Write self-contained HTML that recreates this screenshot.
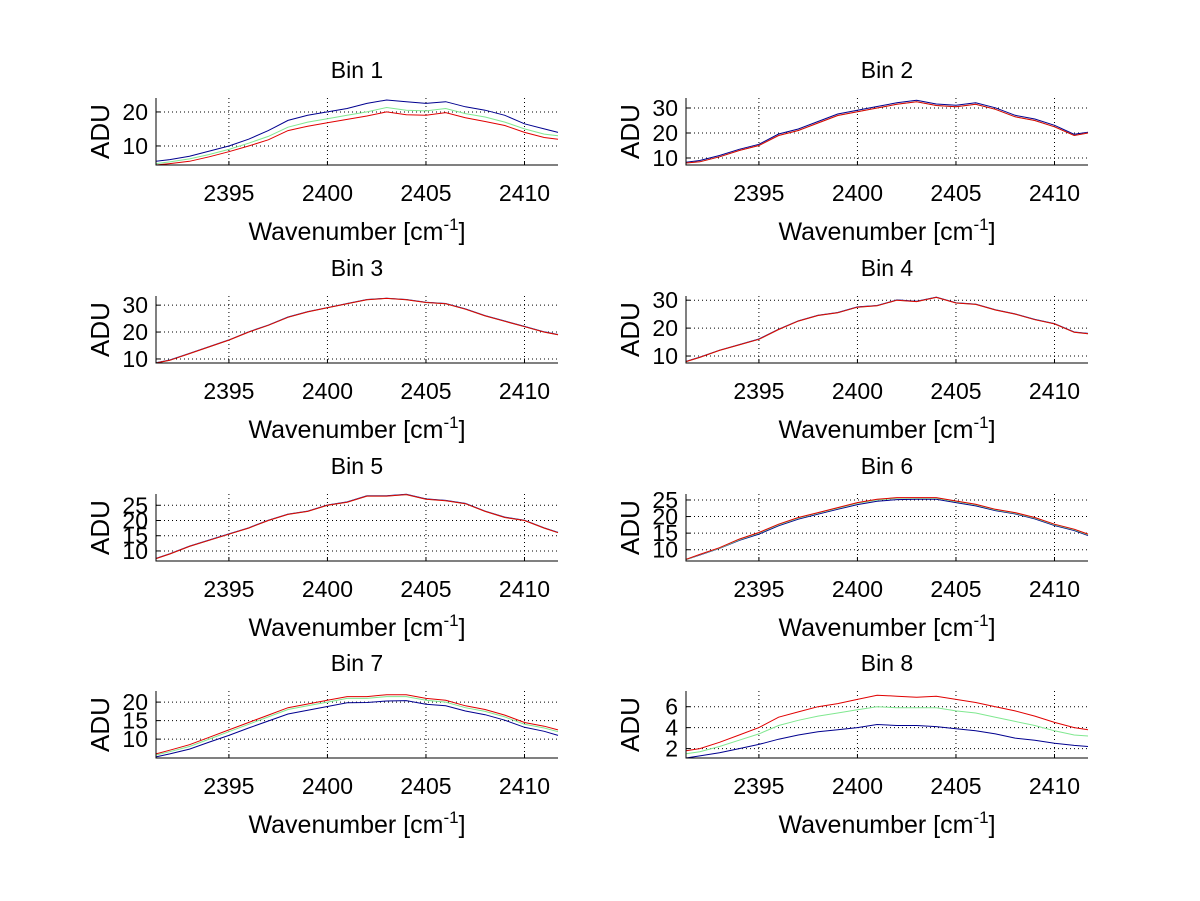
<!DOCTYPE html>
<html><head><meta charset="utf-8"><style>
html,body{margin:0;padding:0;background:#fff;}
svg{display:block;font-family:"Liberation Sans",sans-serif;}
</style></head><body>
<svg id="fig" width="1200" height="901" viewBox="0 0 1200 901" xmlns="http://www.w3.org/2000/svg"></svg>
<script>
const xs = [2391.3,2392,2393,2394,2395,2396,2397,2398,2399,2400,2401,2402,2403,2404,2405,2406,2407,2408,2409,2410,2411,2411.7];
const xTicks = [2395,2400,2405,2410];
const binTitles = ["Bin 1","Bin 2","Bin 3","Bin 4","Bin 5","Bin 6","Bin 7","Bin 8"];
const yLims = [[4.4,24.1],[7.2,34],[8.5,33.4],[7.5,31.5],[6.7,28.7],[6.6,26.8],[4.9,23],[1.1,7.5]];
const yTicks = [[10,20],[10,20,30],[10,20,30],[10,20,30],[10,15,20,25],[10,15,20,25],[10,15,20],[2,4,6]];
const blue = [
[5.5,6,7,8.5,10,12,14.5,17.5,19,20,21,22.5,23.5,23,22.5,23,21.5,20.5,19,16.5,15,14],
[8.3,9,11,13.5,15.5,19.6,21.6,24.6,27.6,29.1,30.6,32.1,33.1,31.6,31.1,32.1,30.1,27.1,25.6,23.1,19.5,20.3],
[8.6,9.6,12.1,14.6,17.1,20.1,22.6,25.6,27.6,29.1,30.6,32.1,32.6,32.1,31.1,30.6,28.6,26.1,24.1,22.1,20.1,19.1],
[8.1,9.6,12.1,14.1,16.1,19.6,22.6,24.6,25.6,27.6,28.1,30.1,29.6,31.1,29.1,28.6,26.6,25.1,23.1,21.6,18.6,18.1],
[7.6,9.1,11.6,13.6,15.6,17.6,20.1,22.1,23.1,25.1,26.1,28.1,28.1,28.6,27.1,26.6,25.6,23.1,21.1,20.1,17.6,16.1],
[7,8.4,10.4,12.8,14.7,17.2,19.2,20.7,22.2,23.6,24.6,25.1,25.2,25.2,24.2,23.2,21.8,20.8,19.3,17.3,15.8,14.3],
[5.2,6,7.3,9.2,11,13,14.9,16.8,17.8,18.8,19.8,19.9,20.3,20.4,19.4,19,17.6,16.6,15.1,13.2,12.1,11],
[1.1,1.3,1.6,2,2.4,2.9,3.3,3.6,3.8,4,4.3,4.2,4.2,4.1,3.9,3.7,3.4,3,2.8,2.5,2.3,2.2]];
const green = [
[4.8,5.3,6.2,7.5,9,10.8,12.8,15.5,17,18,19,20,21.3,20.5,20.3,21,19.5,18.5,17,15,13.5,13],
[8,8.5,10.5,13,15,19,21,24,27,28.5,30,31.5,32.5,31,30.5,31.5,29.5,26.5,25,22.5,19,20],
[8.5,9.5,12,14.5,17,20,22.5,25.5,27.5,29,30.5,32,32.5,32,31,30.5,28.5,26,24,22,20,19],
[8,9.5,12,14,16,19.5,22.5,24.5,25.5,27.5,28,30,29.5,31,29,28.5,26.5,25,23,21.5,18.5,18],
[7.5,9,11.5,13.5,15.5,17.5,20,22,23,25,26,28,28,28.5,27,26.5,25.5,23,21,20,17.5,16],
[7,8.5,10.5,13,15,17.5,19.5,21,22.5,24,25,25.5,25.5,25.5,24.5,23.5,22,21,19.5,17.5,16,14.5],
[5.7,6.6,8,10,12,14,16,18,19,20,21,21,21.5,21.5,20.5,20,18.5,17.5,16,14,13,12],
[1.5,1.7,2.2,2.8,3.4,4.2,4.7,5.1,5.4,5.7,6,5.9,5.9,5.9,5.6,5.4,5,4.6,4.2,3.7,3.3,3.2]];
const red = [
[4.4,4.8,5.5,6.8,8.3,10,11.8,14.5,15.8,16.8,17.8,18.8,20,19.2,19,19.8,18.3,17.2,16,14,12.5,12],
[8,8.5,10.5,13,15,19,21,24,27,28.5,30,31.5,32.5,31,30.5,31.5,29.5,26.5,25,22.5,19,20],
[8.5,9.5,12,14.5,17,20,22.5,25.5,27.5,29,30.5,32,32.5,32,31,30.5,28.5,26,24,22,20,19],
[8,9.5,12,14,16,19.5,22.5,24.5,25.5,27.5,28,30,29.5,31,29,28.5,26.5,25,23,21.5,18.5,18],
[7.5,9,11.5,13.5,15.5,17.5,20,22,23,25,26,28,28,28.5,27,26.5,25.5,23,21,20,17.5,16],
[7.1,8.6,10.6,13.2,15.2,17.7,19.7,21.2,22.7,24.2,25.2,25.7,25.7,25.7,24.7,23.7,22.2,21.2,19.7,17.7,16.2,14.7],
[6,7,8.5,10.5,12.5,14.5,16.5,18.5,19.5,20.5,21.5,21.5,22,22,21,20.5,19,18,16.5,14.5,13.5,12.5],
[1.8,2,2.6,3.3,4,5,5.5,6,6.3,6.7,7.1,7,6.9,7,6.7,6.4,6,5.6,5.1,4.5,4,3.8]];

const NS="http://www.w3.org/2000/svg";
const svg=document.getElementById('fig');
function mk(tag,attrs,parent){const e=document.createElementNS(NS,tag);for(const k in attrs)e.setAttribute(k,attrs[k]);(parent||svg).appendChild(e);return e;}
const XMIN=2391.3,XMAX=2411.7;
const lefts=[156,686], W=402, tops=[98,296,494,691], H=67;
for(let b=0;b<8;b++){
  const col=b%2,row=Math.floor(b/2);
  const L=lefts[col],T=tops[row];
  const g=mk('g',{});
  
  
  const [y0,y1]=yLims[b];
  const sx=v=>L+(v-XMIN)/(XMAX-XMIN)*W;
  const sy=v=>T+H-(v-y0)/(y1-y0)*H;
  for(const t of xTicks){const l=mk('line',{x1:sx(t),x2:sx(t),y1:T,y2:T+H,stroke:'#000','stroke-width':1,'stroke-dasharray':'1,3'},g);
    
    mk('line',{x1:sx(t),x2:sx(t),y1:T+H,y2:T+H-4,stroke:'#000'},g);
    const tx=mk('text',{x:sx(t),y:T+H+36,'font-size':23,'text-anchor':'middle'},g);tx.textContent=t;
    }
  for(const t of yTicks[b]){const l=mk('line',{x1:L,x2:L+W,y1:sy(t),y2:sy(t),stroke:'#000','stroke-width':1,'stroke-dasharray':'1,3'},g);
    
    mk('line',{x1:L,x2:L+4,y1:sy(t),y2:sy(t),stroke:'#000'},g);
    const tx=mk('text',{x:L-8,y:sy(t)+8,'font-size':23,'text-anchor':'end'},g);tx.textContent=t;
    }
  const series=[[blue[b],'#00008f','blue'],[green[b],'#80e890','green'],[red[b],'#e00000','red']];
  for(const [vals,c,n] of series){
    const d=vals.map((v,i)=>(i?'L':'M')+sx(xs[i]).toFixed(1)+','+sy(v).toFixed(1)).join('');
    const p=mk('path',{d:d,fill:'none',stroke:c,'stroke-width':1},g);
    
  }
  const ax=mk('path',{d:`M${L},${T}V${T+H}H${L+W}`,fill:'none',stroke:'#000','stroke-width':1},g);
  
  const ti=mk('text',{x:L+W/2,y:T-20,'font-size':23,'text-anchor':'middle'},g);ti.textContent=binTitles[b];
  
  const yl=mk('text',{x:0,y:0,'font-size':26,'text-anchor':'middle',transform:`translate(${L-47},${T+H/2}) rotate(-90)`},g);yl.textContent='ADU';
  
  const xl=mk('text',{x:L+W/2,y:T+H+75,'font-size':25,'text-anchor':'middle'},g);
  
  const s1=mk('tspan',{},xl);s1.textContent='Wavenumber [cm';
  const s2=mk('tspan',{dy:-10,'font-size':17},xl);s2.textContent='-1';
  const s3=mk('tspan',{dy:10},xl);s3.textContent=']';
}
</script>
</body></html>
